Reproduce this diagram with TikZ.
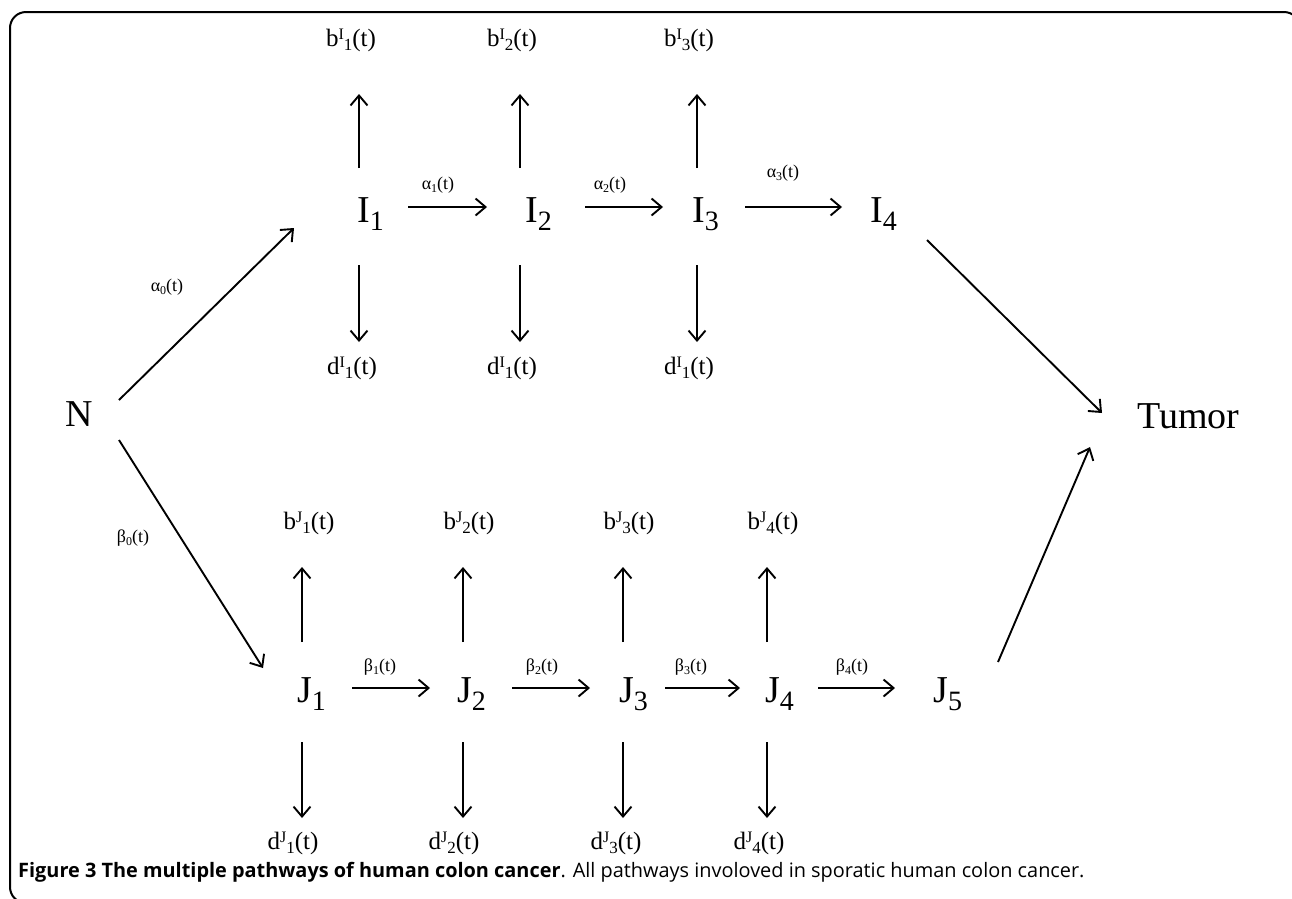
\documentclass[tikz,border=0pt]{standalone}
\usepackage{fontspec}
\setmainfont{Liberation Serif}
\newfontfamily\capfont{Open Sans}
\usetikzlibrary{arrows.meta}
\newcommand\bsub[1]{\raisebox{-8pt}{\fontsize{28}{30}\selectfont #1}}
\newcommand\lsup[1]{\raisebox{7pt}{\fontsize{16}{17}\selectfont #1}}
\newcommand\lsub[1]{\raisebox{-4pt}{\fontsize{17}{18}\selectfont #1}}
\newcommand\rsub[1]{\raisebox{-3pt}{\fontsize{12}{13}\selectfont #1}}
\tikzset{
  big/.style={font=\fontsize{38}{40}\selectfont, inner sep=0pt, anchor=base west},
  lab/.style={font=\fontsize{25}{27}\selectfont, inner sep=0pt},
  rate/.style={font=\fontsize{18}{20}\selectfont, inner sep=0pt},
  arr/.style={line width=1.9pt, -{Straight Barb[length=10pt,width=17pt]}},
  frame/.style={line width=2pt, rounded corners=16pt}
}
\begin{document}
\begin{tikzpicture}[x=1pt,y=-1pt]
\clip (0,0) rectangle (1292,898);
\fill[white] (0,0) rectangle (1292,898);
\draw[frame] (10,12) rectangle (1300,903);

% main nodes
\node[big] (N) at (65,426) {N};
\node[big] (I1) at (357,222) {I\bsub{1}};
\node[big] (I2) at (525,222) {I\bsub{2}};
\node[big] (I3) at (692,222) {I\bsub{3}};
\node[big] (I4) at (870,222) {I\bsub{4}};
\node[big] (J1) at (297,702) {J\bsub{1}};
\node[big] (J2) at (457,702) {J\bsub{2}};
\node[big] (J3) at (619,702) {J\bsub{3}};
\node[big] (J4) at (765,702) {J\bsub{4}};
\node[big] (J5) at (933,702) {J\bsub{5}};
\node[big] (T) at (1137,428) {Tumor};

% birth / death labels top
\node[lab] (bI1) at (351,40) {b\lsup{I}\lsub{1}(t)};
\node[lab] (bI2) at (512,40) {b\lsup{I}\lsub{2}(t)};
\node[lab] (bI3) at (689,40) {b\lsup{I}\lsub{3}(t)};
\node[lab] (dI1) at (352,368) {d\lsup{I}\lsub{1}(t)};
\node[lab] (dI2) at (512,368) {d\lsup{I}\lsub{1}(t)};
\node[lab] (dI3) at (689,368) {d\lsup{I}\lsub{1}(t)};
% bottom
\node[lab] (bJ1) at (309,523) {b\lsup{J}\lsub{1}(t)};
\node[lab] (bJ2) at (469,523) {b\lsup{J}\lsub{2}(t)};
\node[lab] (bJ3) at (629,523) {b\lsup{J}\lsub{3}(t)};
\node[lab] (bJ4) at (773,523) {b\lsup{J}\lsub{4}(t)};
\node[lab] (dJ1) at (293,843) {d\lsup{J}\lsub{1}(t)};
\node[lab] (dJ2) at (454,843) {d\lsup{J}\lsub{2}(t)};
\node[lab] (dJ3) at (616,843) {d\lsup{J}\lsub{3}(t)};
\node[lab] (dJ4) at (759,843) {d\lsup{J}\lsub{4}(t)};

% rate labels
\node[rate] (a0) at (167,287) {α\rsub{0}(t)};
\node[rate] (a1) at (438,185) {α\rsub{1}(t)};
\node[rate] (a2) at (610,185) {α\rsub{2}(t)};
\node[rate] (a3) at (783,173) {α\rsub{3}(t)};
\node[rate] (b0) at (133,538) {β\rsub{0}(t)};
\node[rate] (b1) at (380,667) {β\rsub{1}(t)};
\node[rate] (b2) at (542,667) {β\rsub{2}(t)};
\node[rate] (b3) at (691,667) {β\rsub{3}(t)};
\node[rate] (b4) at (852,667) {β\rsub{4}(t)};

% vertical arrows top
\foreach \i/\x in {1/359,2/520,3/697}{
  \coordinate (Iu\i a) at (\x,168); \coordinate (Iu\i b) at (\x,94);
  \coordinate (Id\i a) at (\x,265); \coordinate (Id\i b) at (\x,342);
  \draw[arr] (Iu\i a) -- (Iu\i b);
  \draw[arr] (Id\i a) -- (Id\i b);
}
% vertical arrows bottom
\foreach \i/\x in {1/302,2/463,3/623,4/767}{
  \coordinate (Ju\i a) at (\x,642); \coordinate (Ju\i b) at (\x,567);
  \coordinate (Jd\i a) at (\x,742); \coordinate (Jd\i b) at (\x,818);
  \draw[arr] (Ju\i a) -- (Ju\i b);
  \draw[arr] (Jd\i a) -- (Jd\i b);
}
% horizontal arrows
\foreach \i/\s/\e in {1/408/487,2/585/663,3/745/842}{
  \coordinate (Ih\i a) at (\s,207); \coordinate (Ih\i b) at (\e,207);
  \draw[arr] (Ih\i a) -- (Ih\i b);
}
\foreach \i/\s/\e in {1/352/430,2/512/590,3/665/740,4/818/895}{
  \coordinate (Jh\i a) at (\s,688); \coordinate (Jh\i b) at (\e,688);
  \draw[arr] (Jh\i a) -- (Jh\i b);
}
% diagonals
\coordinate (NIa) at (119,400); \coordinate (NIb) at (294,228);
\coordinate (NJa) at (119,440); \coordinate (NJb) at (263,668);
\coordinate (ITa) at (927,240); \coordinate (ITb) at (1102,413);
\coordinate (JTa) at (998,662); \coordinate (JTb) at (1090,447);
\draw[arr] (NIa) -- (NIb);
\draw[arr] (NJa) -- (NJb);
\draw[arr] (ITa) -- (ITb);
\draw[arr] (JTa) -- (JTb);

% caption
\node[anchor=base west, inner sep=0pt, font=\capfont\fontsize{19.9}{21}\selectfont] (cap) at (18,877)
  {\textbf{Figure 3 The multiple pathways of human colon cancer}. All pathways involoved in sporatic human colon cancer.};
\end{tikzpicture}
\end{document}
